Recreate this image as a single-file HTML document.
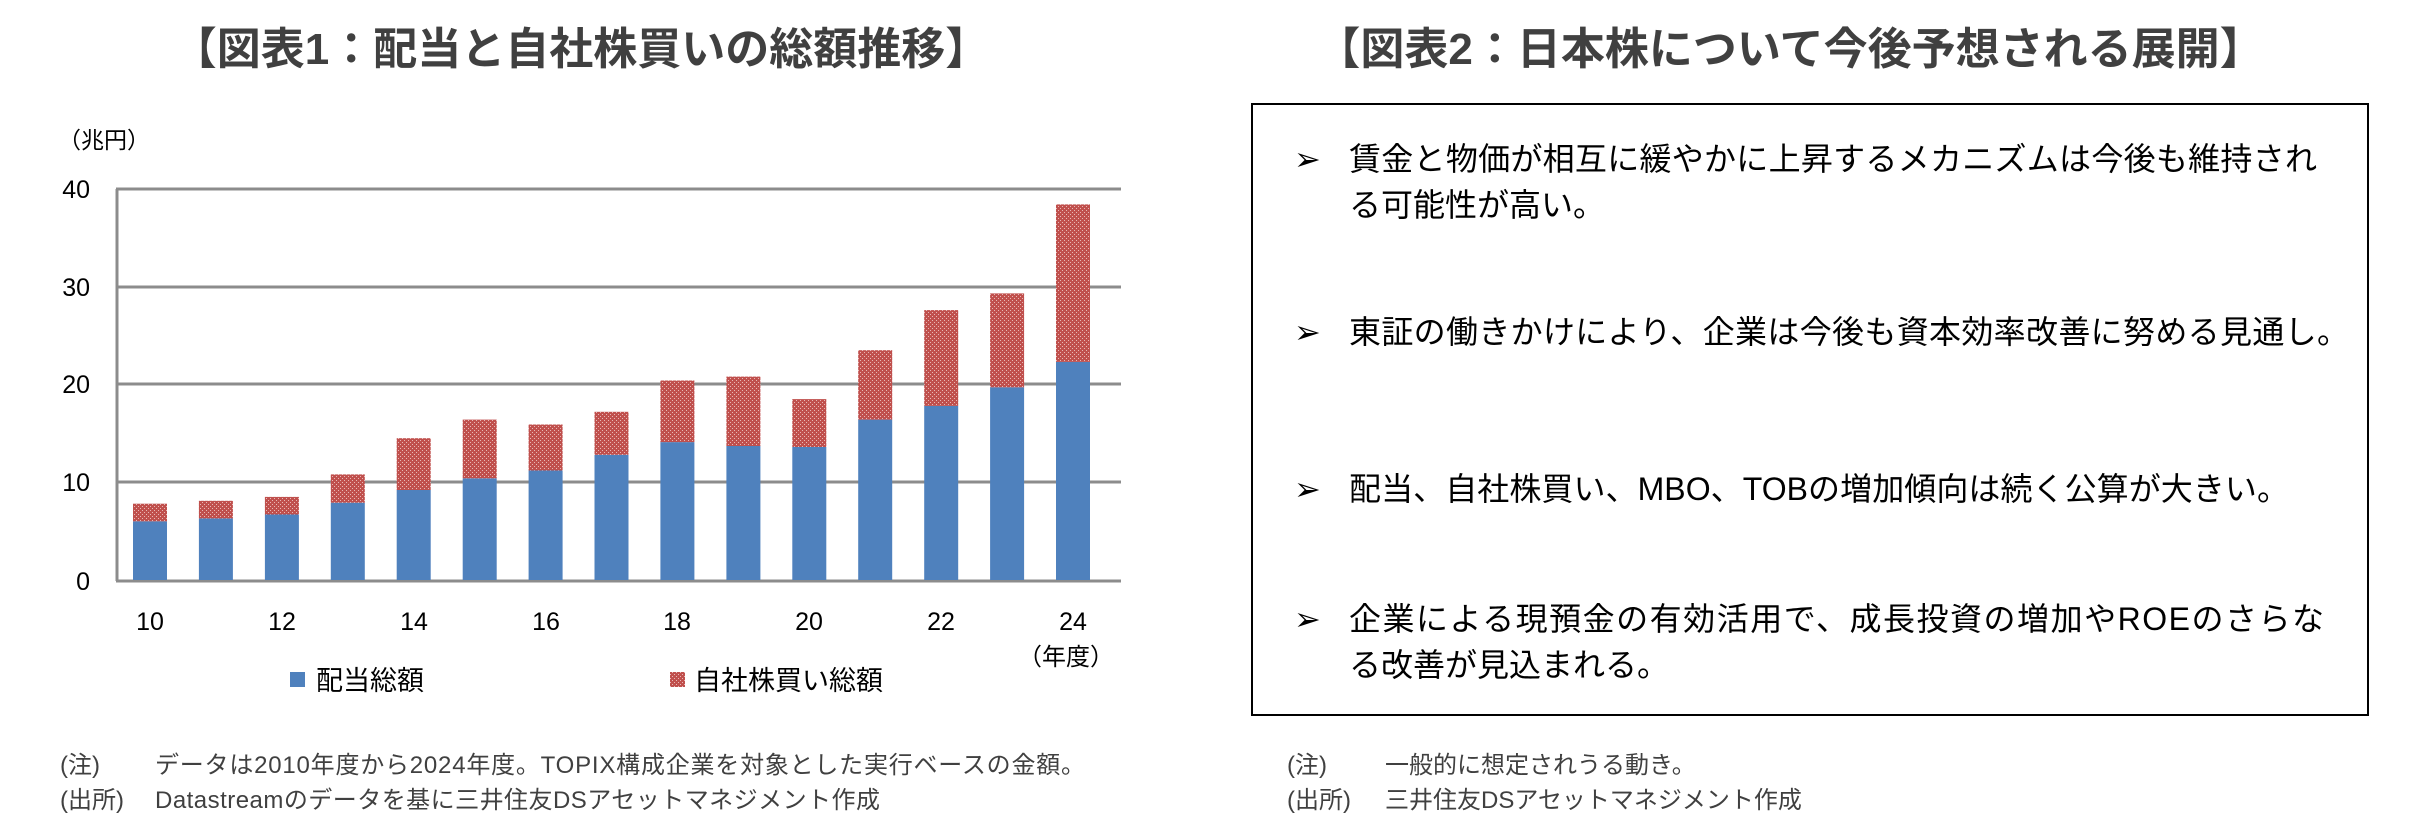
<!DOCTYPE html>
<html><head><meta charset="utf-8"><style>
html,body{margin:0;padding:0;background:#fff;}
svg{display:block;}
text{font-family:"Liberation Sans","Noto Sans CJK JP",sans-serif;}
</style></head><body>
<svg width="2419" height="828" viewBox="0 0 2419 828" xmlns="http://www.w3.org/2000/svg">
<defs>
<pattern id="dots" width="4" height="4" patternUnits="userSpaceOnUse">
<rect width="4" height="4" fill="#c0504d"/>
<rect x="0" y="0" width="1" height="1" fill="#e8b8b6"/>
<rect x="2" y="2" width="1" height="1" fill="#e8b8b6"/>
</pattern>
</defs>
<text x="581" y="64" font-size="44" font-weight="bold" fill="#404040" text-anchor="middle">【図表1：配当と自社株買いの総額推移】</text>
<text x="1790" y="64" font-size="44" font-weight="bold" fill="#404040" text-anchor="middle">【図表2：日本株について今後予想される展開】</text>

<text x="58" y="148" font-size="23" fill="#000">（兆円）</text>
<g stroke="#8c8c8c" stroke-width="3">
<line x1="116" y1="189" x2="1121" y2="189"/>
<line x1="116" y1="287" x2="1121" y2="287"/>
<line x1="116" y1="384" x2="1121" y2="384"/>
<line x1="116" y1="482" x2="1121" y2="482"/>
<line x1="116" y1="581" x2="1121" y2="581"/>
<line x1="117" y1="189" x2="117" y2="581"/>
</g>
<g font-size="25" fill="#000" text-anchor="end">
<text x="90" y="198">40</text><text x="90" y="296">30</text><text x="90" y="393">20</text><text x="90" y="491">10</text><text x="90" y="590">0</text>
</g>
<g fill="#4f81bd">
<rect x="133" y="521.3" width="34" height="58.7"/>
<rect x="198.9" y="518.4" width="34" height="61.6"/>
<rect x="264.9" y="514.5" width="34" height="65.5"/>
<rect x="330.8" y="502.7" width="34" height="77.3"/>
<rect x="396.7" y="490" width="34" height="90"/>
<rect x="462.7" y="478.3" width="34" height="101.7"/>
<rect x="528.6" y="470.5" width="34" height="109.5"/>
<rect x="594.5" y="454.8" width="34" height="125.2"/>
<rect x="660.4" y="442.1" width="34" height="137.9"/>
<rect x="726.4" y="446" width="34" height="134"/>
<rect x="792.3" y="447" width="34" height="133"/>
<rect x="858.2" y="419.6" width="34" height="160.4"/>
<rect x="924.2" y="405.9" width="34" height="174.1"/>
<rect x="990.1" y="387.3" width="34" height="192.7"/>
<rect x="1056" y="361.9" width="34" height="218.1"/>
</g>
<g fill="url(#dots)">
<rect x="133" y="503.7" width="34" height="17.6"/>
<rect x="198.9" y="500.8" width="34" height="17.6"/>
<rect x="264.9" y="496.9" width="34" height="17.6"/>
<rect x="330.8" y="474.4" width="34" height="28.3"/>
<rect x="396.7" y="438.2" width="34" height="51.8"/>
<rect x="462.7" y="419.6" width="34" height="58.7"/>
<rect x="528.6" y="424.5" width="34" height="46"/>
<rect x="594.5" y="411.8" width="34" height="43"/>
<rect x="660.4" y="380.5" width="34" height="61.6"/>
<rect x="726.4" y="376.6" width="34" height="69.4"/>
<rect x="792.3" y="399.1" width="34" height="47.9"/>
<rect x="858.2" y="350.2" width="34" height="69.4"/>
<rect x="924.2" y="310.1" width="34" height="95.8"/>
<rect x="990.1" y="293.4" width="34" height="93.9"/>
<rect x="1056" y="204.4" width="34" height="157.5"/>
</g>
<g font-size="25" fill="#000" text-anchor="middle">
<text x="150" y="630">10</text><text x="282" y="630">12</text><text x="414" y="630">14</text><text x="546" y="630">16</text><text x="677" y="630">18</text><text x="809" y="630">20</text><text x="941" y="630">22</text><text x="1073" y="630">24</text>
</g>
<text x="1018" y="665" font-size="24" fill="#000">（年度）</text>
<rect x="290" y="672" width="15" height="15" fill="#4f81bd"/>
<text x="316" y="690" font-size="27" fill="#000">配当総額</text>
<rect x="670" y="672" width="15" height="15" fill="url(#dots)"/>
<text x="694" y="690" font-size="27" fill="#000">自社株買い総額</text>

<g font-size="24" fill="#404040">
<text x="60" y="773">(注)</text><text x="155" y="773" textLength="930">データは2010年度から2024年度。TOPIX構成企業を対象とした実行ベースの金額。</text>
<text x="60" y="808">(出所)</text><text x="155" y="808" textLength="725">Datastreamのデータを基に三井住友DSアセットマネジメント作成</text>
</g>

<rect x="1252" y="104" width="1116" height="611" fill="none" stroke="#000" stroke-width="2"/>
<g font-size="32" fill="#000">
<text x="1294" y="170">➢</text><text x="1349" y="170" textLength="968">賃金と物価が相互に緩やかに上昇するメカニズムは今後も維持され</text>
<text x="1349" y="216">る可能性が高い。</text>
<text x="1294" y="343">➢</text><text x="1349" y="343" textLength="1000">東証の働きかけにより、企業は今後も資本効率改善に努める見通し。</text>
<text x="1294" y="500">➢</text><text x="1349" y="500" textLength="940">配当、自社株買い、MBO、TOBの増加傾向は続く公算が大きい。</text>
<text x="1294" y="630">➢</text><text x="1349" y="630" textLength="975">企業による現預金の有効活用で、成長投資の増加やROEのさらな</text>
<text x="1349" y="676">る改善が見込まれる。</text>
</g>
<g font-size="24" fill="#404040">
<text x="1287" y="773">(注)</text><text x="1385" y="773">一般的に想定されうる動き。</text>
<text x="1287" y="808">(出所)</text><text x="1385" y="808">三井住友DSアセットマネジメント作成</text>
</g>
</svg>
</body></html>
